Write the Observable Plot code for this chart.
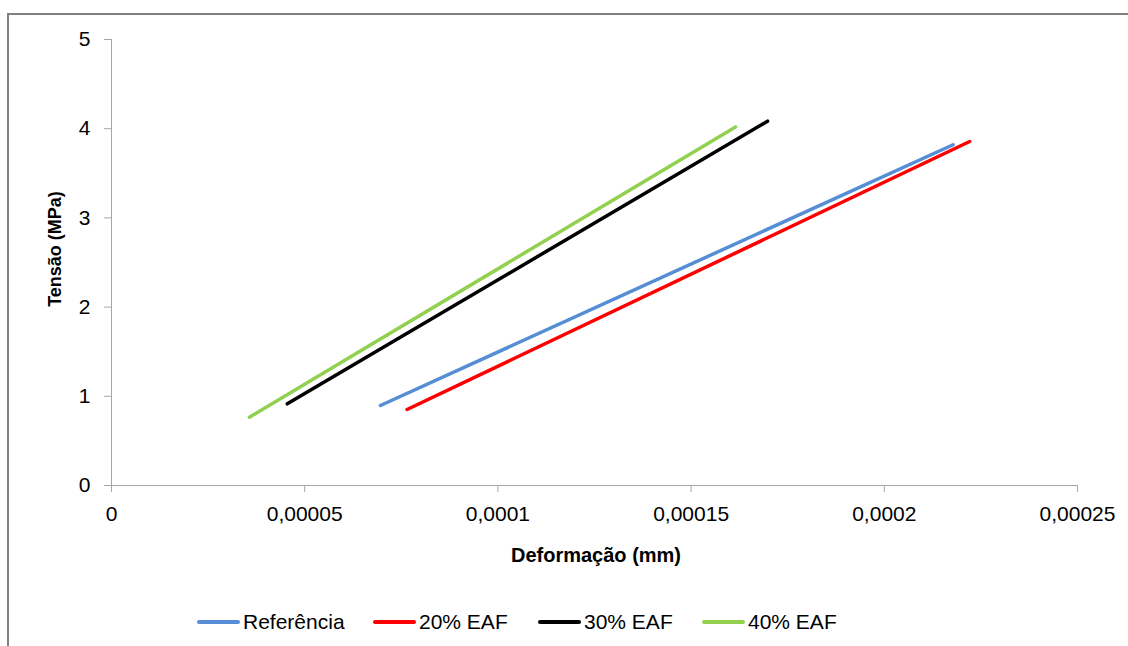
<!DOCTYPE html>
<html>
<head>
<meta charset="utf-8">
<script src="https://cdn.jsdelivr.net/npm/d3@7"></script>
<script src="https://cdn.jsdelivr.net/npm/@observablehq/plot@0.6"></script>
<style>
  html, body { margin: 0; padding: 0; background: #fff; overflow: hidden; }
  #wrap { position: relative; width: 1128px; height: 646px; font-family: "Liberation Sans", Arial, sans-serif; }
  #frame { position: absolute; left: 7px; top: 13px; width: 1200px; height: 700px; border: 2px solid #808080; box-sizing: border-box; }
  #chart { position: absolute; left: 0; top: 0; }
  .title { position: absolute; font-weight: bold; color: #000; white-space: nowrap; }
  #xtitle { left: 596px; top: 555px; font-size: 20px; transform: translate(-50%, -50%); }
  #ytitle { left: 55px; top: 249px; font-size: 18px; transform: translate(-50%, -50%) rotate(-90deg); }
  #legend { position: absolute; left: 0; top: 0; }
  .item { position: absolute; top: 611px; height: 22px; }
  .swatch { position: absolute; top: 9px; height: 4px; width: 43px; border-radius: 2px; }
  .lab { position: absolute; left: 46px; top: 0; font-size: 21px; line-height: 22px; white-space: nowrap; color: #000; }
</style>
</head>
<body>
<div id="wrap">
  <div id="frame"></div>
  <div id="chart"></div>
  <div id="xtitle" class="title">Deformação (mm)</div>
  <div id="ytitle" class="title">Tensão (MPa)</div>
  <div id="legend"></div>
</div>
<script>
// ---- data ----
const seriesNames = ["Referência", "20% EAF", "30% EAF", "40% EAF"];
const seriesColors = ["#558ED5", "#FF0000", "#000000", "#92D050"];
const strainStart = [0.0000696, 0.0000765, 0.0000455, 0.0000357];
const strainEnd   = [0.0002178, 0.0002221, 0.0001698, 0.0001615];
const stressStart = [0.897, 0.852, 0.916, 0.766];
const stressEnd   = [3.82, 3.857, 4.084, 4.02];
const xTicks = [0, 0.00005, 0.0001, 0.00015, 0.0002, 0.00025];
const xTickLabels = ["0", "0,00005", "0,0001", "0,00015", "0,0002", "0,00025"];
const yTicks = [0, 1, 2, 3, 4, 5];
const yTickLabels = ["0", "1", "2", "3", "4", "5"];

const rows = [];
seriesNames.forEach((s, i) => {
  rows.push({series: s, x: strainStart[i], y: stressStart[i]});
  rows.push({series: s, x: strainEnd[i], y: stressEnd[i]});
});

const axisGray = "#a6a6a6";
const plot = Plot.plot({
  width: 1128,
  height: 580,
  marginLeft: 111,
  marginRight: 51,
  marginTop: 39,
  marginBottom: 95,
  style: {fontFamily: "'Liberation Sans', Arial, sans-serif", color: "#000", background: "transparent"},
  x: {domain: [0, 0.00025]},
  y: {domain: [0, 5]},
  color: {domain: seriesNames, range: seriesColors},
  marks: [
    Plot.ruleY([0], {stroke: axisGray, strokeWidth: 1}),
    Plot.ruleX([0], {stroke: axisGray, strokeWidth: 1}),
    Plot.axisY({ticks: yTicks, tickFormat: (d) => yTickLabels[yTicks.indexOf(d)], tickSize: 7, tickPadding: 14, fontSize: 21, stroke: axisGray, fill: "#000", label: null}),
    Plot.axisX({ticks: xTicks, tickFormat: (d) => xTickLabels[xTicks.indexOf(d)], tickSize: 7, tickPadding: 14, fontSize: 21, stroke: axisGray, fill: "#000", label: null}),
    Plot.line(rows, {x: "x", y: "y", z: "series", stroke: "series", strokeWidth: 3.5, strokeLinecap: "round"})
  ]
});
document.getElementById("chart").appendChild(plot);

// legend
const legendLeft = [197, 373, 538, 702];
const legend = document.getElementById("legend");
seriesNames.forEach((s, i) => {
  const it = document.createElement("div");
  it.className = "item";
  it.style.left = legendLeft[i] + "px";
  const sw = document.createElement("div");
  sw.className = "swatch";
  sw.style.background = seriesColors[i];
  const lb = document.createElement("div");
  lb.className = "lab";
  lb.textContent = s;
  it.appendChild(sw);
  it.appendChild(lb);
  legend.appendChild(it);
});
</script>
</body>
</html>
